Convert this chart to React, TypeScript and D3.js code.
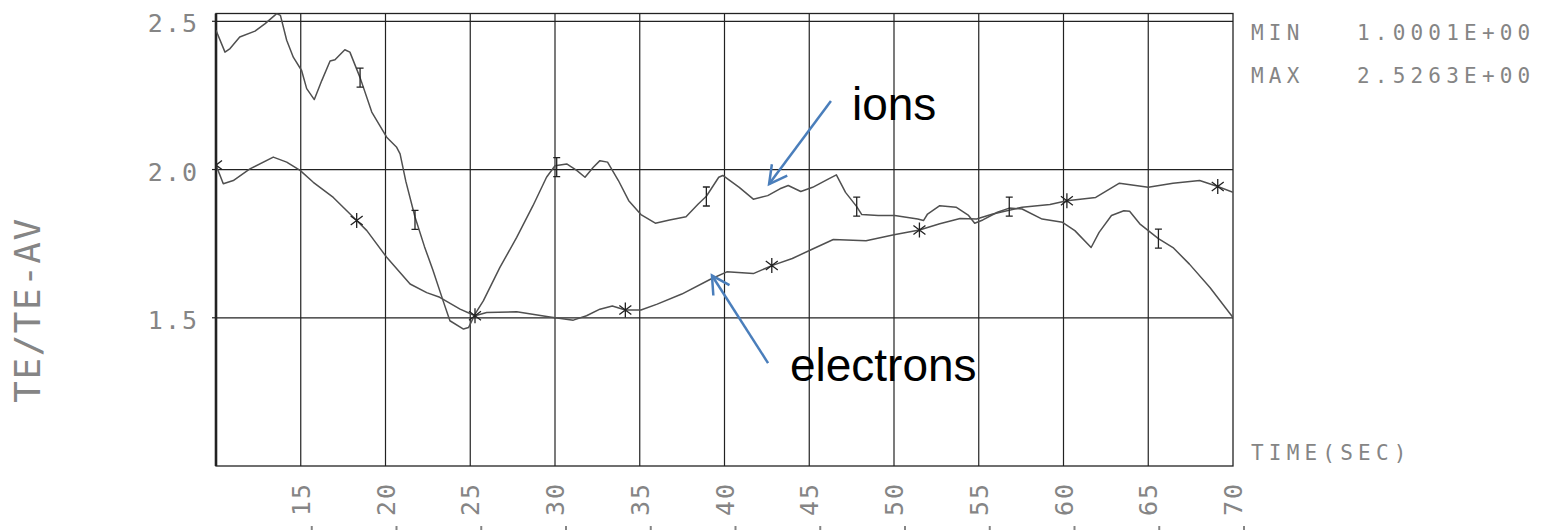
import React from "react";
import * as d3 from "d3";

// time axis (sec) and the y ticks
const xTicks = [15, 20, 25, 30, 35, 40, 45, 50, 55, 60, 65, 70];
const xTickLabels = ["15", "20", "25", "30", "35", "40", "45", "50", "55", "60", "65", "70"];
const yTicks = [1.5, 2.0, 2.5];
const yTickLabels = ["1.5", "2.0", "2.5"];
const yMin = 1.0001;
const yMax = 2.5263;

// ions curve (I markers)
const ionT = [10.0, 10.53, 10.83, 11.4, 12.3, 12.9, 13.58, 13.8, 14.17, 14.56, 15.05, 15.35, 15.8, 16.24, 16.73, 17.02, 17.6, 17.9, 18.5, 19.19, 20.07, 20.66, 20.86, 21.2, 21.74, 22.3, 22.8, 23.4, 23.8, 24.6, 24.9, 25.28, 25.77, 26.75, 27.74, 28.7, 29.5, 30.0, 30.69, 31.28, 31.77, 32.26, 32.65, 33.1, 33.74, 34.35, 35.07, 35.92, 36.76, 37.73, 38.45, 38.93, 39.66, 39.9, 40.87, 41.7, 42.55, 43.27, 43.76, 44.5, 45.2, 46.06, 46.6, 47.14, 47.8, 48.1, 49.07, 50.04, 51.4, 51.74, 51.98, 52.7, 53.66, 54.4, 54.76, 55.24, 56.1, 56.8, 57.56, 58.74, 59.94, 60.67, 61.63, 62.1, 62.83, 63.56, 63.9, 64.5, 65.6, 66.46, 67.43, 68.64, 70.0];
const ionV = [2.47, 2.396, 2.408, 2.447, 2.467, 2.492, 2.526, 2.52, 2.436, 2.379, 2.334, 2.273, 2.236, 2.3, 2.366, 2.37, 2.404, 2.396, 2.31, 2.194, 2.109, 2.075, 2.053, 1.96, 1.84, 1.74, 1.66, 1.557, 1.49, 1.462, 1.467, 1.512, 1.557, 1.67, 1.771, 1.878, 1.974, 2.013, 2.019, 1.997, 1.974, 2.008, 2.03, 2.025, 1.963, 1.895, 1.848, 1.819, 1.83, 1.841, 1.884, 1.91, 1.974, 1.98, 1.94, 1.9, 1.912, 1.935, 1.946, 1.926, 1.94, 1.966, 1.982, 1.923, 1.875, 1.848, 1.845, 1.845, 1.833, 1.828, 1.85, 1.878, 1.873, 1.845, 1.819, 1.83, 1.856, 1.87, 1.867, 1.833, 1.822, 1.794, 1.737, 1.788, 1.845, 1.861, 1.859, 1.817, 1.767, 1.737, 1.681, 1.602, 1.501];
const ionMarkT = [18.5, 21.74, 30.1, 38.93, 47.8, 56.8, 65.6];
const ionMarkV = [2.31, 1.83, 2.008, 1.909, 1.875, 1.875, 1.767];

// electrons curve (* markers)
const elecT = [10.0, 10.43, 11.02, 12.0, 13.38, 14.17, 14.96, 15.74, 16.92, 18.3, 18.9, 20.07, 21.45, 22.43, 23.2, 24.4, 25.28, 25.97, 27.74, 29.7, 31.08, 31.86, 32.65, 33.38, 34.15, 35.07, 36.03, 37.48, 39.17, 40.14, 41.7, 42.79, 44.0, 45.2, 46.42, 48.35, 50.0, 51.5, 52.7, 53.9, 54.87, 55.83, 57.56, 59.2, 60.2, 61.9, 63.3, 65.0, 66.46, 68.03, 69.1, 70.0];
const elecV = [2.015, 1.952, 1.963, 2.002, 2.042, 2.025, 1.997, 1.957, 1.906, 1.828, 1.794, 1.704, 1.614, 1.585, 1.569, 1.529, 1.507, 1.518, 1.52, 1.503, 1.492, 1.507, 1.529, 1.54, 1.526, 1.526, 1.546, 1.58, 1.63, 1.655, 1.649, 1.676, 1.7, 1.732, 1.764, 1.76, 1.78, 1.796, 1.817, 1.835, 1.833, 1.85, 1.873, 1.882, 1.895, 1.906, 1.954, 1.94, 1.954, 1.963, 1.943, 1.923];
const elecMarkT = [10.0, 18.3, 25.28, 34.15, 42.79, 51.5, 60.2, 69.1];
const elecMarkV = [2.015, 1.828, 1.507, 1.526, 1.676, 1.796, 1.895, 1.943];

// callouts, in data units
const callouts = [
  { label: "ions", tx: 47.52, tv: 2.167, from: [46.28, 2.231], to: [42.63, 1.951] },
  { label: "electrons", tx: 43.86, tv: 1.287, from: [42.57, 1.347], to: [39.26, 1.6425] },
];

const W = 1551;
const H = 530;
const plot = { left: 216, right: 1233, top: 13.5, bottom: 466 };
const plotFont = "'DejaVu Sans Mono', monospace";
const plotGrey = "#858585";
const ink = "#222";

export default function App() {
  const x = d3.scaleLinear().domain([10, 70]).range([plot.left, plot.right]);
  const y = d3.scaleLinear().domain([yMin, yMax]).range([plot.bottom, plot.top]);

  const line = d3
    .line<[number, number]>()
    .x((d) => x(d[0]))
    .y((d) => y(d[1]));

  const ionPath = line(ionT.map((t, i) => [t, ionV[i]]) as [number, number][]) || "";
  const elecPath = line(elecT.map((t, i) => [t, elecV[i]]) as [number, number][]) || "";

  const arrowHead = (fx: number, fy: number, tx: number, ty: number) => {
    const a = Math.atan2(fy - ty, fx - tx);
    const len = 20;
    const spread = 0.5;
    const p1 = [tx + len * Math.cos(a + spread), ty + len * Math.sin(a + spread)];
    const p2 = [tx + len * Math.cos(a - spread), ty + len * Math.sin(a - spread)];
    return `M${p1[0]},${p1[1]}L${tx},${ty}L${p2[0]},${p2[1]}`;
  };

  const small = { fontFamily: plotFont, fontSize: 21, letterSpacing: 5.2, fill: plotGrey };

  return (
    <svg
      width={W}
      height={H}
      style={{ position: "absolute", left: 0, top: 0, background: "#fff" }}
    >
      <defs>
        <clipPath id="plotclip">
          <rect
            x={plot.left}
            y={plot.top}
            width={plot.right - plot.left}
            height={plot.bottom - plot.top}
          />
        </clipPath>
      </defs>

      {/* grid */}
      {xTicks.slice(0, -1).map((t) => (
        <line key={"gx" + t} x1={x(t)} x2={x(t)} y1={plot.top} y2={plot.bottom} stroke={ink} strokeWidth={1.2} />
      ))}
      {yTicks.map((v) => (
        <line key={"gy" + v} x1={plot.left} x2={plot.right} y1={y(v)} y2={y(v)} stroke={ink} strokeWidth={1.2} />
      ))}
      {yTicks.map((v) => (
        <line key={"ty" + v} x1={plot.left - 4} x2={plot.left} y1={y(v)} y2={y(v)} stroke={ink} strokeWidth={1.2} />
      ))}

      {/* frame */}
      <rect
        x={plot.left}
        y={plot.top}
        width={plot.right - plot.left}
        height={plot.bottom - plot.top}
        fill="none"
        stroke={ink}
        strokeWidth={1.3}
      />
      <line x1={plot.left} x2={plot.left} y1={plot.top} y2={plot.bottom} stroke={ink} strokeWidth={2.6} />

      {/* curves */}
      <g clipPath="url(#plotclip)">
        <path d={ionPath} fill="none" stroke="#505050" strokeWidth={1.5} strokeLinejoin="round" />
        <path d={elecPath} fill="none" stroke="#505050" strokeWidth={1.5} strokeLinejoin="round" />

        {ionMarkT.map((t, i) => {
          const cx = x(t);
          const cy = y(ionMarkV[i]);
          return (
            <path
              key={"im" + i}
              d={`M${cx},${cy - 9.5}V${cy + 9.5}M${cx - 3.5},${cy - 9.5}H${cx + 3.5}M${cx - 3.5},${cy + 9.5}H${cx + 3.5}`}
              stroke={ink}
              strokeWidth={1.3}
              fill="none"
            />
          );
        })}
        {elecMarkT.map((t, i) => {
          const cx = x(t);
          const cy = y(elecMarkV[i]);
          return (
            <path
              key={"em" + i}
              d={`M${cx},${cy - 7.5}V${cy + 7.5}M${cx - 6},${cy - 4.5}L${cx + 6},${cy + 4.5}M${cx - 6},${cy + 4.5}L${cx + 6},${cy - 4.5}`}
              stroke={ink}
              strokeWidth={1.3}
              fill="none"
            />
          );
        })}
      </g>

      {/* y tick labels */}
      {yTicks.map((v, i) => (
        <text
          key={"yl" + v}
          x={199}
          y={y(v) + 11}
          textAnchor="end"
          fontFamily={plotFont}
          fontSize={25}
          letterSpacing={2}
          fill={plotGrey}
        >
          {yTickLabels[i]}
        </text>
      ))}

      {/* x tick labels, rotated */}
      {xTicks.map((t, i) => (
        <text
          key={"xl" + t}
          transform={`translate(${x(t) + 9},516) rotate(-90)`}
          fontFamily={plotFont}
          fontSize={25}
          letterSpacing={2}
          fill={plotGrey}
        >
          {xTickLabels[i]}
        </text>
      ))}
      {/* cut-off marks of the next label row */}
      {xTicks.map((t) => (
        <line key={"cm" + t} x1={x(t) + 11} x2={x(t) + 11} y1={526} y2={531} stroke={plotGrey} strokeWidth={2} />
      ))}

      {/* axis titles and min/max */}
      <text
        transform="translate(40,310) rotate(-90)"
        textAnchor="middle"
        fontFamily={plotFont}
        fontSize={36}
        letterSpacing={1.5}
        fill={plotGrey}
      >
        TE/TE-AV
      </text>
      <text x={1251} y={460} {...small}>
        TIME(SEC)
      </text>
      <text x={1251} y={40} {...small}>
        MIN
      </text>
      <text x={1357} y={40} {...small}>
        {yMin.toFixed(4) + "E+00"}
      </text>
      <text x={1251} y={83} {...small}>
        MAX
      </text>
      <text x={1357} y={83} {...small}>
        {yMax.toFixed(4) + "E+00"}
      </text>

      {/* callouts */}
      {callouts.map((c) => {
        const fx = x(c.from[0]);
        const fy = y(c.from[1]);
        const tx = x(c.to[0]);
        const ty = y(c.to[1]);
        return (
          <g key={c.label}>
            <line x1={fx} y1={fy} x2={tx} y2={ty} stroke="#4a7ebb" strokeWidth={2.5} />
            <path d={arrowHead(fx, fy, tx, ty)} stroke="#4a7ebb" strokeWidth={2.5} fill="none" />
            <text
              x={x(c.tx)}
              y={y(c.tv)}
              fontFamily="'Liberation Sans', Arial, sans-serif"
              fontSize={46}
              fill="#000"
            >
              {c.label}
            </text>
          </g>
        );
      })}
    </svg>
  );
}
